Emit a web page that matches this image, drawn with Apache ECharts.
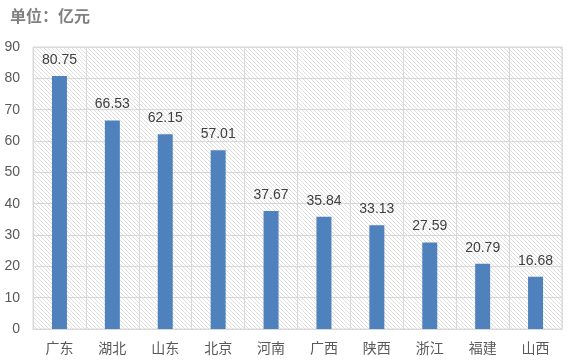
<!DOCTYPE html>
<html>
<head>
<meta charset="utf-8">
<script src="https://cdn.jsdelivr.net/npm/echarts@6/dist/echarts.min.js"></script>
<style>html,body{margin:0;padding:0;background:#fff}#c{width:575px;height:363px}</style>
</head>
<body>
<div id="c"></div>
<script>
const categories = ['广东','湖北','山东','北京','河南','广西','陕西','浙江','福建','山西'];
const values = [80.75, 66.53, 62.15, 57.01, 37.67, 35.84, 33.13, 27.59, 20.79, 16.68];
const yTicks = [0, 10, 20, 30, 40, 50, 60, 70, 80, 90];

function makeHatch() {
  const c = document.createElement('canvas');
  c.width = 4; c.height = 4;
  const ctx = c.getContext('2d');
  ctx.fillStyle = '#ffffff';
  ctx.fillRect(0, 0, 4, 4);
  ctx.fillStyle = '#dedede';
  for (let i = 0; i < 4; i++) ctx.fillRect(i, i, 1, 1);
  return c;
}

const chart = echarts.init(document.getElementById('c'), null, {renderer: 'canvas'});
chart.setOption({
  animation: false,
  title: {
    text: '单位：亿元', left: 5, top: 3,
    textStyle: {fontSize: 16, fontWeight: 'bold', color: '#808080', fontFamily: 'Noto Sans CJK SC'}
  },
  grid: {
    left: 33, right: 13, top: 47, bottom: 34,
    show: true,
    backgroundColor: {image: makeHatch(), repeat: 'repeat'},
    borderColor: '#d9d9d9', borderWidth: 1
  },
  xAxis: {
    type: 'category', data: categories,
    axisLine: {show: true, lineStyle: {color: '#d9d9d9'}},
    axisTick: {show: false},
    splitLine: {show: true, interval: 0, lineStyle: {color: '#d9d9d9'}},
    axisLabel: {color: '#595959', fontSize: 14, margin: 12, fontFamily: 'Noto Sans CJK SC'}
  },
  yAxis: {
    type: 'value', min: yTicks[0], max: yTicks[yTicks.length - 1], interval: 10,
    axisLine: {show: false}, axisTick: {show: false},
    splitLine: {lineStyle: {color: '#d9d9d9'}},
    axisLabel: {color: '#595959', fontSize: 14, margin: 13, fontFamily: 'Liberation Sans'}
  },
  series: [{
    type: 'bar', data: values, barWidth: 15,
    itemStyle: {color: '#4f81bd'},
    label: {show: true, position: 'top', distance: 9, color: '#404040', fontSize: 14, fontFamily: 'Liberation Sans'}
  }]
});
</script>
</body>
</html>
